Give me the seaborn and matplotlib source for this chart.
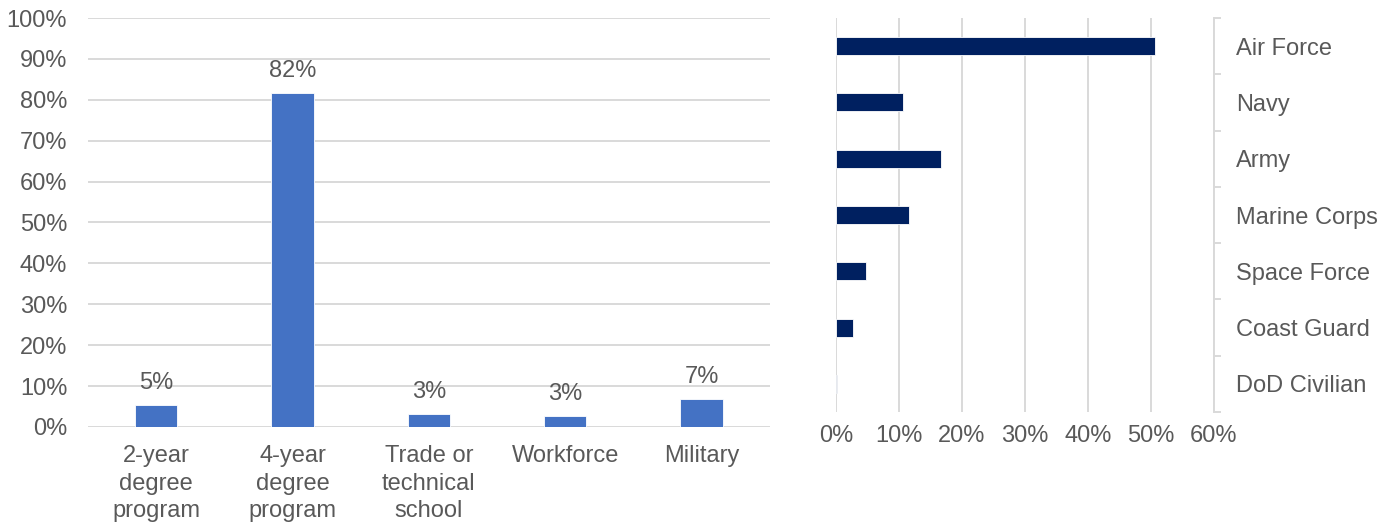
import matplotlib
matplotlib.use("Agg")
import matplotlib.pyplot as plt
import seaborn as sns
from matplotlib.ticker import FixedLocator

# Data
pathways = ["2-year\ndegree\nprogram", "4-year\ndegree\nprogram",
            "Trade or\ntechnical\nschool", "Workforce", "Military"]
pathway_pct = [5.3, 81.7, 3.1, 2.7, 6.8]
pathway_labels = ["5%", "82%", "3%", "3%", "7%"]

branches = ["Air Force", "Navy", "Army", "Marine Corps",
            "Space Force", "Coast Guard", "DoD Civilian"]
branch_pct = [50.6, 10.6, 16.6, 11.6, 4.7, 2.7, 0.1]

# Style
sns.set_theme(style="white")
plt.rcParams['font.family'] = ['Liberation Sans', 'DejaVu Sans']
TEXT = "#595959"
GRID = "#D9D9D9"
FS = 17

fig = plt.figure(figsize=(13.97, 5.25), dpi=100)

# --------------------------
# Left: pathways bar chart
# --------------------------
ax1 = fig.add_axes([0.063, 0.1867, 0.488, 0.779])
sns.barplot(x=pathways, y=pathway_pct, color="#4472C4", width=0.31,
            saturation=1, edgecolor="white", linewidth=0.6, ax=ax1)
ax1.set_ylim(0, 100)
ax1.set_xlim(-0.5, 4.5)
ax1.set_yticks(range(0, 101, 10))
ax1.set_yticklabels([f"{v}%" for v in range(0, 101, 10)])
ax1.yaxis.grid(True, color=GRID, linewidth=1.4)
ax1.set_axisbelow(True)
for s in ax1.spines.values():
    s.set_visible(False)
ax1.tick_params(axis='both', length=0, labelsize=FS, colors=TEXT)
ax1.tick_params(axis='y', pad=15)
ax1.tick_params(axis='x', pad=13)
for lbl in ax1.get_xticklabels():
    lbl.set_linespacing(1.33)
for i, (v, t) in enumerate(zip(pathway_pct, pathway_labels)):
    ax1.annotate(t, (i, v), xytext=(0, 8), textcoords="offset points",
                 ha="center", va="bottom", fontsize=FS, color=TEXT)
ax1.set_xlabel("")
ax1.set_ylabel("")

# --------------------------
# Right: branch horizontal bar chart
# --------------------------
ax2 = fig.add_axes([0.5984, 0.2152, 0.2706, 0.7505])
sns.barplot(x=branch_pct, y=branches, color="#002060", width=0.32,
            saturation=1, orient="h", edgecolor="white", linewidth=0.6, ax=ax2)
ax2.set_xlim(0, 60)
ax2.set_ylim(6.5, -0.5)
ax2.set_xticks(range(0, 61, 10))
ax2.set_xticklabels([f"{v}%" for v in range(0, 61, 10)])
ax2.xaxis.grid(True, color=GRID, linewidth=1.4)
ax2.set_axisbelow(True)
for name, s in ax2.spines.items():
    s.set_visible(False)
ax2.yaxis.tick_right()
ax2.spines['right'].set_visible(True)
ax2.spines['right'].set_color(GRID)
ax2.spines['right'].set_linewidth(1.4)
ax2.yaxis.set_minor_locator(FixedLocator([i - 0.5 for i in range(8)]))
ax2.tick_params(axis='y', which='minor', length=5, width=1.4, color=GRID,
                right=True, left=False)
ax2.tick_params(axis='y', which='major', length=0, pad=16, labelsize=FS,
                colors=TEXT, right=True, left=False, labelright=True, labelleft=False)
for lbl in ax2.get_yticklabels():
    lbl.set_ha("left")
ax2.tick_params(axis='x', length=0, pad=9, labelsize=FS, colors=TEXT)
ax2.set_xlabel("")
ax2.set_ylabel("")

fig.savefig("out.png", dpi=100)
